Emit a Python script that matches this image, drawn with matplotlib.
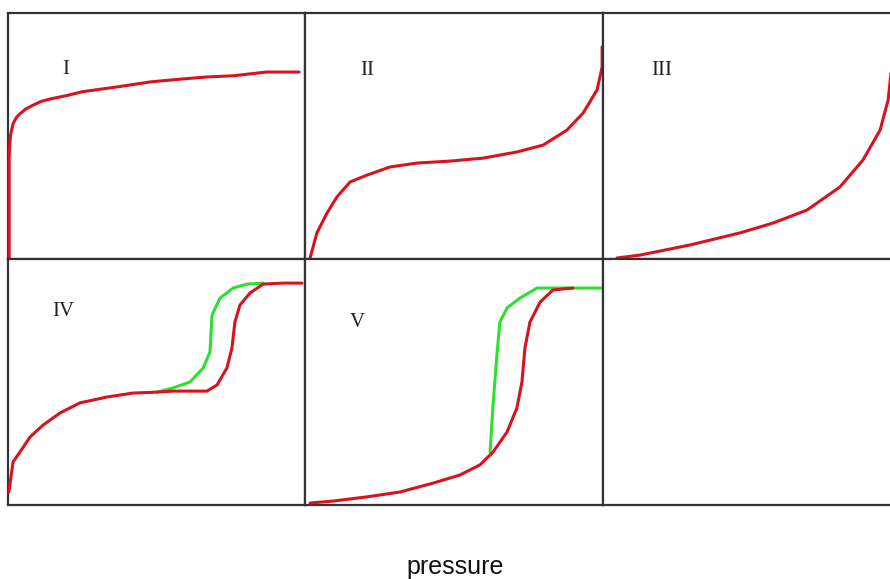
import matplotlib.pyplot as plt

# isotherm shapes (fractions of each panel)
i_x = [0.004, 0.004, 0.008, 0.017, 0.028, 0.04, 0.06, 0.084, 0.11, 0.14, 0.2, 0.25, 0.31, 0.37, 0.48,
       0.57, 0.67, 0.76, 0.87, 0.98]
i_y = [0.004, 0.42, 0.5, 0.55, 0.575, 0.59, 0.61, 0.625, 0.64, 0.65, 0.665, 0.68, 0.69, 0.70, 0.72,
       0.73, 0.74, 0.745, 0.76, 0.76]

ii_x = [0.017, 0.04, 0.074, 0.107, 0.151, 0.208, 0.285, 0.376, 0.487, 0.597, 0.711, 0.799, 0.879, 0.933, 0.98, 0.997, 0.997]
ii_y = [0.004, 0.106, 0.187, 0.252, 0.313, 0.341, 0.374, 0.39, 0.398, 0.41, 0.435, 0.463, 0.524, 0.593, 0.687, 0.78, 0.862]

iii_x = [0.047, 0.125, 0.293, 0.461, 0.572, 0.687, 0.798, 0.875, 0.933, 0.96, 0.972, 0.985]
iii_y = [0.004, 0.016, 0.057, 0.106, 0.146, 0.199, 0.293, 0.402, 0.524, 0.646, 0.78, 0.9]

iv_x = [0.003, 0.017, 0.04, 0.074, 0.118, 0.175, 0.242, 0.333, 0.421, 0.502, 0.556, 0.67, 0.704,
        0.737, 0.754, 0.764, 0.781, 0.815, 0.859, 0.926, 0.99]
iv_y = [0.053, 0.175, 0.215, 0.276, 0.325, 0.374, 0.415, 0.439, 0.455, 0.459, 0.463, 0.463, 0.488,
        0.557, 0.638, 0.744, 0.813, 0.862, 0.898, 0.902, 0.902]
iv_des_x = [0.502, 0.556, 0.613, 0.657, 0.68, 0.687, 0.714, 0.758, 0.805, 0.859]
iv_des_y = [0.459, 0.476, 0.5, 0.557, 0.622, 0.772, 0.841, 0.882, 0.898, 0.902]

v_x = [0.017, 0.094, 0.208, 0.319, 0.43, 0.52, 0.587, 0.631, 0.678, 0.711, 0.728, 0.738, 0.755,
       0.789, 0.832, 0.899]
v_y = [0.008, 0.016, 0.033, 0.053, 0.089, 0.122, 0.163, 0.215, 0.297, 0.394, 0.5, 0.638, 0.744,
       0.825, 0.874, 0.882]
v_des_x = [0.621, 0.631, 0.644, 0.654, 0.678, 0.721, 0.779, 0.879, 1.0]
v_des_y = [0.215, 0.407, 0.61, 0.744, 0.801, 0.841, 0.882, 0.882, 0.882]

labels = ["I", "II", "III", "IV", "V"]
label_pos = [(0.195, 0.77), (0.208, 0.768), (0.199, 0.768), (0.185, 0.785), (0.174, 0.74)]

RED = "#d8121e"
GREEN = "#2ee02e"
FRAME = "#333333"

W, H = 890, 579
fig = plt.figure(figsize=(W / 100, H / 100), dpi=100)

col_left = [8, 305, 603]
col_w = [297, 298, 297]
row_top = [13, 259]
row_h = 246

axes = []
for r in range(2):
    for c in range(3):
        left = col_left[c] / W
        bottom = (H - row_top[r] - row_h) / H
        ax = fig.add_axes([left, bottom, col_w[c] / W, row_h / H])
        ax.set_xlim(0, 1)
        ax.set_ylim(0, 1)
        ax.set_xticks([])
        ax.set_yticks([])
        for s in ax.spines.values():
            s.set_color(FRAME)
            s.set_linewidth(1.6)
        axes.append(ax)

curves = [(i_x, i_y), (ii_x, ii_y), (iii_x, iii_y), (iv_x, iv_y), (v_x, v_y)]
desorb = {3: (iv_des_x, iv_des_y), 4: (v_des_x, v_des_y)}

for k, (x, y) in enumerate(curves):
    ax = axes[k]
    if k in desorb:
        dx, dy = desorb[k]
        ax.plot(dx, dy, color=GREEN, lw=2.2, solid_capstyle="round", zorder=3)
    ax.plot(x, y, color=RED, lw=2.2, solid_capstyle="round", solid_joinstyle="round",
            zorder=4, clip_on=False)
    ax.text(label_pos[k][0], label_pos[k][1], labels[k], transform=ax.transAxes,
            ha="center", va="center", fontsize=15, family="Liberation Serif", color="#222222")

fig.text(455 / W, 1 - 567 / H, "pressure", ha="center", va="center",
         fontsize=18, family="Liberation Sans", color="#111111")

fig.savefig("out.png", dpi=100)
